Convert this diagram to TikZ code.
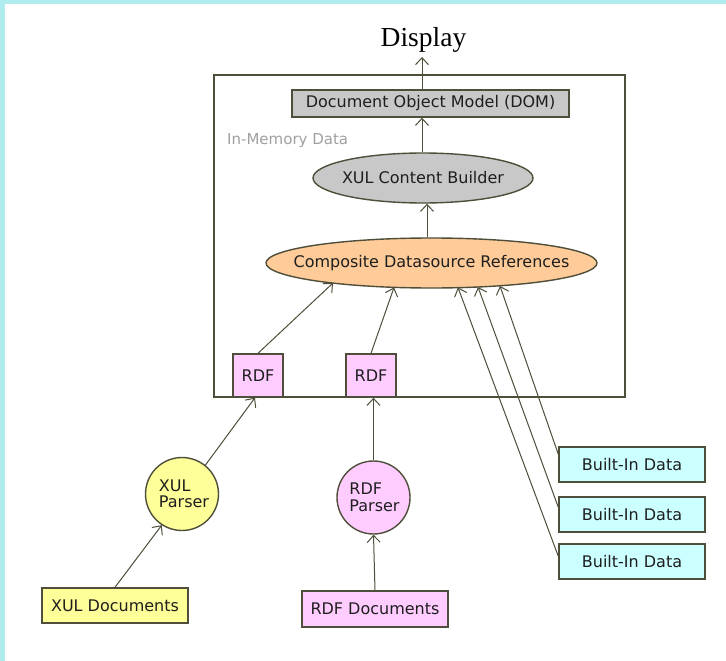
\documentclass[tikz,border=0pt]{standalone}
\usepackage{fontspec}
\setmainfont{DejaVu Sans}
\newfontfamily\dispfont{Liberation Serif}
\usetikzlibrary{arrows.meta,calc,shapes.geometric}
\definecolor{ln}{RGB}{78,78,58}
\definecolor{txt}{RGB}{30,30,30}
\definecolor{grayfill}{RGB}{200,200,200}
\definecolor{orangefill}{RGB}{255,204,153}
\definecolor{pinkfill}{RGB}{255,204,255}
\definecolor{yellowfill}{RGB}{255,255,153}
\definecolor{cyanfill}{RGB}{204,255,255}
\definecolor{framecyan}{RGB}{176,236,238}
\definecolor{labelgray}{RGB}{160,160,160}
\tikzset{
  base/.style={draw=ln, line width=1.4pt, text=txt, inner sep=0pt,
    font=\fontsize{16}{16.5}\selectfont},
  boxnode/.style={base, rectangle},
  ellnode/.style={base, ellipse},
  circnode/.style={base, circle, minimum size=73pt, align=left},
  arr/.style={draw=ln, line width=1pt, -{Straight Barb[length=7pt,width=13pt,line width=1pt]}},
}
\begin{document}
\begin{tikzpicture}[x=1pt,y=-1pt]
\useasboundingbox (0,0) rectangle (726,661);
\fill[white] (0,0) rectangle (726,661);
\fill[framecyan] (0,0) rectangle (726,4);
\fill[framecyan] (0,0) rectangle (5,661);

% title
\node[anchor=base, inner sep=0pt, text=black, font=\dispfont\fontsize{27.5}{30}\selectfont] (display) at (423.5,47) {Display};
\coordinate (disptip) at (422,57);

% in-memory box
\node[boxnode, minimum width=411pt, minimum height=322pt] (mem) at (419.5,236) {};
\node[anchor=west, inner sep=0pt, text=labelgray, font=\fontsize{15}{16}\selectfont] (memlabel) at (227,141) {In-Memory Data};

\node[boxnode, fill=grayfill, minimum width=277pt, minimum height=27pt] (dom) at (430.5,103.5) {Document Object Model (DOM)};
\node[ellnode, fill=grayfill, minimum width=220pt, minimum height=50pt] (xcb) at (423,178) {\makebox[0pt]{XUL Content Builder}};
\node[ellnode, fill=orangefill, minimum width=331pt, minimum height=50pt] (cds) at (431.5,263) {\makebox[0pt]{Composite Datasource References}};

\node[boxnode, fill=pinkfill, minimum width=50pt, minimum height=43pt] (rdf1) at (258,375.5) {RDF};
\node[boxnode, fill=pinkfill, minimum width=50pt, minimum height=43pt] (rdf2) at (371,375.5) {RDF};

\node[circnode, fill=yellowfill] (xp) at (182,494) {\hspace*{4pt}XUL\\\hspace*{4pt}Parser};
\node[circnode, fill=pinkfill] (rp) at (373.5,497.5) {\hspace*{2pt}RDF\\\hspace*{2pt}Parser};

\node[boxnode, fill=yellowfill, minimum width=146pt, minimum height=35pt] (xd) at (115,605.5) {XUL Documents};
\node[boxnode, fill=pinkfill, minimum width=146pt, minimum height=36pt] (rd) at (375,609) {RDF Documents};

\node[boxnode, fill=cyanfill, minimum width=146pt, minimum height=35pt] (b1) at (632,464.5) {Built-In Data};
\node[boxnode, fill=cyanfill, minimum width=146pt, minimum height=35pt] (b2) at (632,514.5) {Built-In Data};
\node[boxnode, fill=cyanfill, minimum width=146pt, minimum height=35pt] (b3) at (632,561.5) {Built-In Data};

% ellipse contact points
\coordinate (c1) at (333,283);
\coordinate (c2) at (394,287.5);
\coordinate (c3) at (458,287.5);
\coordinate (c4) at (478,287);
\coordinate (c5) at (500,286);

% connectors
\draw[arr] (dom.north -| disptip) -- (disptip);
\draw[arr] (xcb.north -| 422,0) -- (dom.south -| 422,0);
\draw[arr] (cds.north -| 427,0) -- (xcb.south -| 427,0);
\draw[arr] (rdf1.north) -- (c1);
\draw[arr] (rdf2.north) -- (c2);
\draw[arr] ($(b1.north west)+(0,8)$) -- (c5);
\draw[arr] ($(b2.north west)+(0,11)$) -- (c4);
\draw[arr] ($(b3.north west)+(0,13)$) -- (c3);
\draw[arr] (xp.51) -- ($(rdf1.south)+(-3,0)$);
\draw[arr] (rp.north) -- (rp.north |- rdf2.south);
\draw[arr] (xd.north) -- (xp.-123);
\draw[arr] (rd.north) -- (rp.south);
\end{tikzpicture}
\end{document}
